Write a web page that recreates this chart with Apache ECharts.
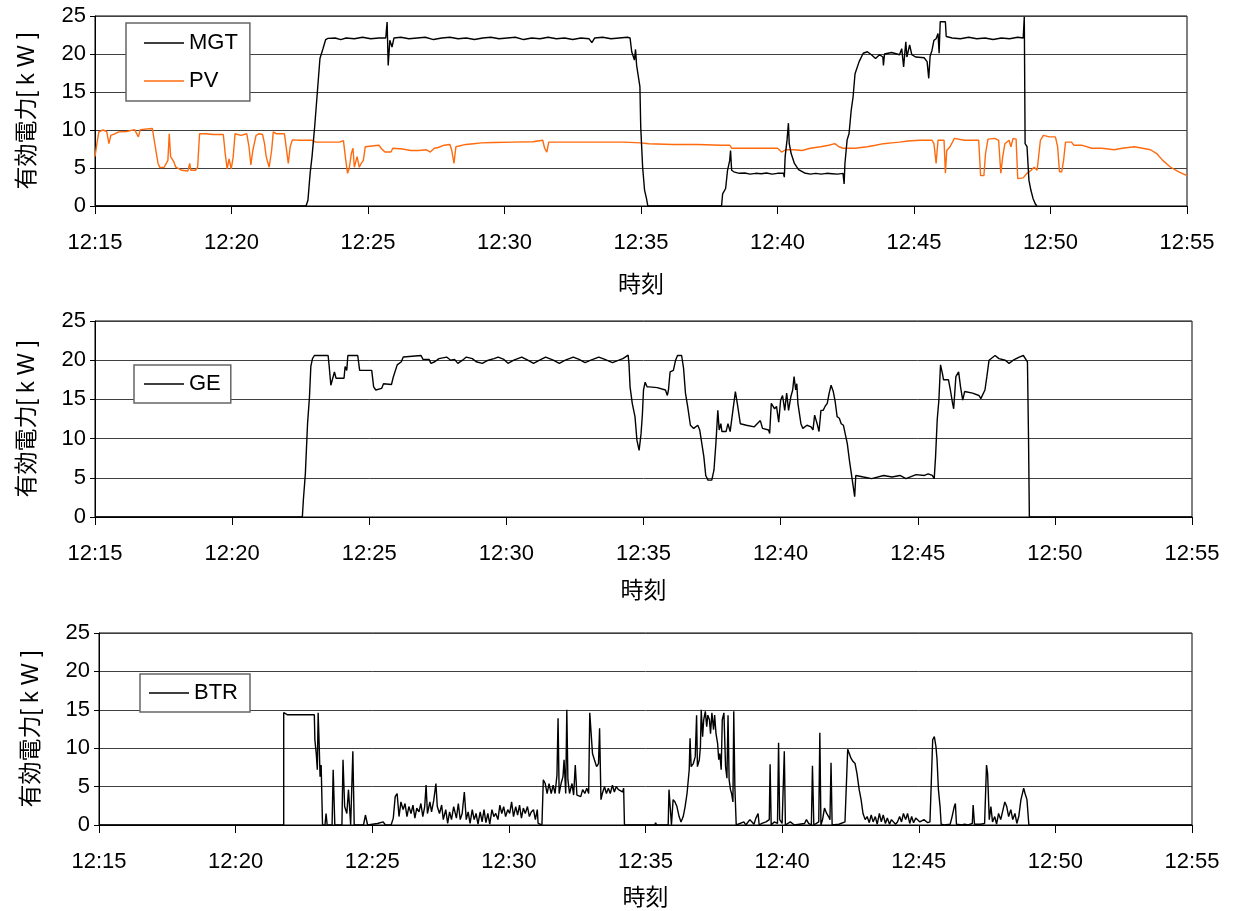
<!DOCTYPE html>
<html><head><meta charset="utf-8">
<script src="https://cdn.jsdelivr.net/npm/echarts@6/dist/echarts.min.js"></script>
<style>html,body{margin:0;padding:0;background:#fff}#c{width:1235px;height:911px}</style>
</head><body><div id="c"></div>
<script>
// x = minutes after 12:15, y = kW
const tickLabels = ['12:15','12:20','12:25','12:30','12:35','12:40','12:45','12:50','12:55'];
const yName = '有効電力[ k W ]';
const xName = '時刻';

const mgt = [[0,0],[7.73,0],[7.8,0.75],[7.88,4.3],[7.95,6.5],[8.05,10.6],[8.16,15.7],[8.24,19.4],[8.35,20.7],[8.45,21.9],[8.53,22.05],
[8.8,22.1],[9.0,21.9],[9.2,22.1],[9.5,22.0],[9.8,22.2],[10.1,22.0],[10.4,22.1],[10.65,22.1],[10.7,24.2],[10.74,18.5],[10.8,21.8],[10.88,20.9],[10.95,22.1],[11.2,22.2],[11.5,22.0],[11.8,22.1],[12.1,22.2],[12.4,21.9],[12.7,22.1],[13.0,22.2],[13.3,22.0],[13.6,22.1],[13.9,21.9],[14.2,22.1],[14.5,22.2],[14.8,22.0],[15.1,22.1],[15.4,22.2],[15.7,21.9],[16.0,22.1],[16.3,22.0],[16.6,22.2],[16.9,22.0],[17.2,22.1],[17.5,21.9],[17.8,22.1],[18.1,22.0],[18.2,21.5],[18.3,22.1],[18.6,22.2],[18.9,22.0],[19.2,22.1],[19.5,22.2],[19.6,22.1],[19.66,20.3],[19.76,19.2],[19.8,20.6],[19.84,18.5],[19.91,18.3],[19.96,15.7],[19.99,10.4],[20.06,5.1],[20.13,2.1],[20.2,1.0],[20.25,0],
[22.95,0],[22.99,1.6],[23.1,2.3],[23.17,4.7],[23.25,6.0],[23.28,7.3],[23.32,4.7],[23.4,4.5],[23.6,4.3],[23.8,4.35],[24.0,4.2],[24.2,4.3],[24.4,4.25],[24.6,4.35],[24.8,4.2],[25.0,4.3],[25.22,4.3],[25.25,3.8],[25.28,6.5],[25.35,8.7],[25.4,10.9],[25.43,8.2],[25.5,6.9],[25.62,5.6],[25.77,4.8],[25.99,4.35],[26.2,4.2],[26.4,4.3],[26.6,4.2],[26.8,4.3],[27.0,4.25],[27.2,4.2],[27.4,4.3],[27.44,2.9],[27.47,5.6],[27.55,8.7],[27.62,9.5],[27.7,12.6],[27.77,14.4],[27.84,17.4],[27.99,19.0],[28.14,20.1],[28.29,20.3],[28.44,19.9],[28.59,19.4],[28.74,19.9],[28.86,19.6],[28.88,18.5],[28.92,20.0],[29.18,20.2],[29.47,19.9],[29.55,20.7],[29.62,18.3],[29.66,20.0],[29.7,21.6],[29.74,19.6],[29.78,19.8],[29.84,21.2],[29.92,19.9],[30.07,19.6],[30.37,19.5],[30.48,19.0],[30.54,16.8],[30.59,19.7],[30.66,20.5],[30.73,21.8],[30.81,22.0],[30.88,22.7],[30.92,20.1],[30.96,24.25],[31.15,24.25],[31.18,22.3],[31.4,22.1],[31.7,22.0],[32.0,22.2],[32.3,22.0],[32.6,22.1],[32.9,21.9],[33.2,22.1],[33.5,22.0],[33.8,22.2],[34.0,22.1],[34.04,24.9],[34.07,8.2],[34.14,7.8],[34.21,3.4],[34.28,2.1],[34.36,1.0],[34.44,0.3],[34.5,0]];

const pv = [[0,6.5],[0.07,8.2],[0.14,9.75],[0.29,10.0],[0.43,9.8],[0.51,8.2],[0.58,9.3],[0.72,9.5],[0.87,9.75],[1.16,9.8],[1.45,10.05],[1.59,9.1],[1.66,10.05],[2.1,10.2],[2.17,8.65],[2.24,7.1],[2.31,5.6],[2.38,5.05],[2.53,5.1],[2.67,6.0],[2.72,9.5],[2.77,6.5],[2.89,5.8],[2.96,5.1],[3.03,4.9],[3.18,4.7],[3.4,4.6],[3.47,5.6],[3.51,4.7],[3.68,4.7],[3.76,5.1],[3.83,9.5],[3.9,9.75],[4.05,9.5],[4.34,9.4],[4.7,9.4],[4.77,6.9],[4.84,4.9],[4.91,6.2],[4.99,4.9],[5.06,6.4],[5.13,9.5],[5.35,9.3],[5.56,9.5],[5.64,7.8],[5.71,5.4],[5.78,7.3],[5.9,9.3],[6.0,9.5],[6.14,9.4],[6.21,8.2],[6.27,6.5],[6.38,5.1],[6.47,7.3],[6.53,9.75],[6.65,9.5],[6.79,9.5],[6.94,9.5],[7.01,9.3],[7.08,5.6],[7.15,7.8],[7.23,8.7],[7.51,8.65],[7.95,8.65],[8.09,8.4],[8.53,8.4],[8.96,8.4],[9.1,8.6],[9.18,6.2],[9.25,4.3],[9.31,4.9],[9.39,6.9],[9.45,7.6],[9.5,5.1],[9.6,6.5],[9.68,5.1],[9.75,5.6],[9.83,6.0],[9.9,7.8],[9.97,8.0],[10.4,8.0],[10.48,7.6],[10.62,7.1],[10.84,7.1],[10.91,7.6],[11.27,7.5],[11.56,7.3],[11.85,7.3],[12.14,7.4],[12.28,7.1],[12.43,7.6],[12.57,7.7],[12.79,8.0],[13.0,8.1],[13.07,7.3],[13.15,5.6],[13.22,7.8],[13.29,8.0],[13.58,8.1],[13.87,8.2],[14.16,8.3],[14.6,8.35],[15.32,8.4],[16.04,8.45],[16.4,8.65],[16.47,7.6],[16.55,7.1],[16.62,8.4],[16.76,8.4],[17.49,8.4],[18.21,8.4],[18.95,8.4],[19.39,8.4],[19.99,8.3],[20.28,8.2],[21.17,8.1],[22.06,8.1],[22.95,8.0],[23.25,8.0],[23.32,7.6],[23.85,7.6],[24.44,7.6],[25.0,7.6],[25.15,7.1],[25.3,7.4],[25.6,7.4],[25.9,7.3],[26.2,7.6],[26.58,7.8],[26.88,8.0],[27.1,8.2],[27.25,7.8],[27.4,7.6],[27.84,7.6],[28.29,7.8],[28.59,8.0],[28.88,8.2],[29.18,8.3],[29.47,8.4],[29.77,8.55],[30.21,8.65],[30.66,8.65],[30.73,8.2],[30.81,5.6],[30.88,8.65],[31.1,8.65],[31.15,4.3],[31.2,7.3],[31.32,7.8],[31.48,8.9],[31.85,8.65],[32.37,8.65],[32.44,4.0],[32.56,4.0],[32.62,6.9],[32.71,8.8],[32.96,8.9],[33.1,8.65],[33.18,4.3],[33.25,6.5],[33.33,8.2],[33.48,8.65],[33.55,7.8],[33.63,8.9],[33.74,8.8],[33.8,3.6],[34.0,3.7],[34.14,4.3],[34.29,4.7],[34.4,5.1],[34.51,4.7],[34.63,8.65],[34.74,9.3],[34.96,9.1],[35.18,9.1],[35.26,7.8],[35.33,4.5],[35.41,4.5],[35.48,6.0],[35.55,8.4],[35.77,8.4],[35.85,8.0],[36.14,8.0],[36.51,7.6],[36.88,7.6],[37.33,7.4],[37.63,7.6],[38.07,7.8],[38.37,7.6],[38.66,7.4],[38.89,6.9],[39.11,6.0],[39.4,5.1],[39.7,4.5],[40.0,4.0]];

const ge = [[0,0],[7.56,0],[7.6,2.3],[7.67,5.5],[7.75,11.9],[7.82,15.3],[7.87,19.2],[7.93,20.2],[8.0,20.6],[8.5,20.6],[8.54,19.2],[8.6,16.8],[8.65,16.6],[8.73,18.5],[8.76,18.7],[8.79,17.7],[8.93,17.7],[9.08,17.7],[9.12,19.2],[9.18,18.7],[9.22,20.6],[9.58,20.6],[9.65,18.7],[10.09,18.7],[10.16,16.6],[10.24,16.2],[10.45,16.4],[10.52,17.0],[10.81,16.9],[10.88,17.9],[10.95,18.1],[11.02,19.4],[11.17,19.8],[11.24,20.4],[11.31,20.6],[11.89,20.6],[11.96,20.1],[12.18,20.1],[12.25,19.6],[12.39,19.8],[12.54,20.2],[12.82,20.4],[12.97,20.0],[13.11,20.1],[13.23,19.6],[13.4,20.0],[13.54,20.4],[13.76,20.2],[13.9,19.8],[14.12,19.6],[14.34,20.0],[14.55,20.2],[14.7,20.4],[14.91,20.1],[15.06,19.6],[15.27,20.0],[15.56,20.4],[15.78,20.0],[15.99,19.6],[16.21,20.0],[16.43,20.4],[16.71,20.0],[16.93,19.6],[17.15,20.0],[17.44,20.4],[17.65,20.1],[17.87,19.7],[18.08,20.0],[18.37,20.4],[18.59,20.1],[18.87,19.7],[19.1,20.0],[19.25,20.2],[19.44,20.65],[19.47,19.6],[19.51,16.6],[19.59,14.5],[19.69,12.8],[19.76,9.8],[19.84,8.5],[19.91,10.6],[19.96,13.1],[20.0,16.2],[20.06,17.2],[20.13,16.6],[20.21,16.6],[20.5,16.5],[20.8,16.2],[20.87,15.5],[20.91,16.2],[20.97,18.5],[21.09,18.7],[21.17,20.0],[21.24,20.6],[21.39,20.6],[21.46,19.0],[21.53,15.8],[21.61,14.1],[21.71,11.7],[21.83,11.3],[21.98,11.7],[22.05,11.1],[22.12,11.1],[22.2,7.7],[22.27,5.3],[22.35,4.7],[22.49,4.7],[22.57,6.0],[22.64,9.4],[22.71,13.6],[22.76,11.1],[22.82,11.9],[22.86,10.9],[23.01,10.9],[23.08,11.9],[23.16,10.9],[23.23,12.8],[23.3,12.8],[23.35,16.0],[23.42,14.5],[23.53,11.9],[23.75,11.7],[24.04,11.5],[24.26,12.3],[24.34,11.3],[24.56,11.1],[24.6,10.65],[24.66,14.5],[24.78,13.8],[24.85,14.1],[24.93,12.1],[25.0,14.9],[25.07,15.5],[25.15,13.6],[25.22,15.8],[25.29,13.6],[25.37,15.3],[25.44,16.2],[25.49,17.9],[25.55,16.2],[25.59,17.0],[25.63,14.5],[25.74,11.9],[25.81,11.3],[25.96,11.7],[26.11,11.5],[26.18,11.1],[26.24,13.0],[26.33,11.9],[26.4,10.9],[26.47,13.6],[26.55,13.6],[26.62,14.1],[26.7,14.5],[26.77,15.8],[26.84,16.8],[26.92,16.0],[26.99,14.7],[27.06,12.8],[27.14,12.6],[27.21,11.9],[27.29,11.7],[27.36,11.5],[27.43,9.4],[27.51,7.2],[27.58,5.5],[27.65,5.3],[27.7,2.6],[27.74,5.3],[28.02,5.1],[28.32,4.9],[28.76,5.3],[29.06,5.1],[29.35,5.3],[29.57,4.9],[29.94,5.4],[30.24,5.3],[30.38,5.5],[30.53,5.3],[30.6,4.9],[30.65,7.7],[30.71,12.4],[30.77,14.9],[30.83,19.4],[30.9,18.3],[30.94,17.5],[31.12,17.5],[31.19,16.2],[31.27,14.5],[31.31,13.8],[31.39,17.9],[31.49,18.5],[31.56,16.6],[31.64,14.9],[31.71,16.0],[31.78,16.0],[32.0,15.8],[32.23,15.5],[32.3,15.1],[32.37,15.3],[32.45,16.2],[32.52,17.9],[32.6,20.0],[32.67,20.2],[32.82,20.6],[32.96,20.2],[33.19,20.0],[33.33,19.6],[33.48,20.0],[33.7,20.4],[33.85,20.6],[33.92,20.4],[34.0,19.8],[34.04,9.8],[34.07,0],[40,0]];

const btr = [[0,0],[6.76,0],[6.76,14.65],[6.9,14.35],[7.88,14.35],[7.9,11.1],[7.95,9.3],[7.99,7.2],[8.02,14.6],[8.06,10.2],[8.09,6.3],[8.13,7.8],[8.16,7.8],[8.18,0],[8.27,0],[8.31,1.5],[8.35,0],[8.53,0],[8.57,7.2],[8.63,0],[8.89,0],[8.93,8.5],[8.99,2.4],[9.07,1.5],[9.13,4.6],[9.21,0],[9.27,0],[9.29,9.6],[9.34,0],[9.68,0],[9.75,1.3],[9.83,0],[10.19,0.2],[10.4,0.4],[10.48,0],[10.69,0],[10.77,0.9],[10.84,3.7],[10.91,4.1],[10.98,1.1],[11.05,3.0],[11.13,2.0],[11.2,2.8],[11.27,1.1],[11.34,2.4],[11.42,1.5],[11.49,2.6],[11.56,0.9],[11.63,2.2],[11.71,1.7],[11.78,2.8],[11.85,1.1],[11.92,2.4],[11.97,5.2],[12.02,1.5],[12.11,3.0],[12.17,1.7],[12.25,3.2],[12.33,5.4],[12.38,2.4],[12.46,1.5],[12.54,2.6],[12.6,0.7],[12.69,2.0],[12.76,0.2],[12.83,1.7],[12.9,0.7],[12.98,2.4],[13.08,0.9],[13.15,2.8],[13.22,0.7],[13.29,1.5],[13.37,4.3],[13.44,0.7],[13.51,1.7],[13.58,0.2],[13.66,2.0],[13.73,0.7],[13.8,1.5],[13.87,0.1],[13.95,1.7],[14.02,0.4],[14.09,2.0],[14.16,0.3],[14.23,1.5],[14.3,0.1],[14.38,2.0],[14.45,1.1],[14.52,1.5],[14.6,0.7],[14.67,2.6],[14.74,1.5],[14.81,2.4],[14.88,1.1],[14.96,2.0],[15.03,1.5],[15.1,3.0],[15.17,1.1],[15.25,2.4],[15.32,1.3],[15.39,2.6],[15.46,0.9],[15.53,2.2],[15.6,1.5],[15.68,2.4],[15.75,1.1],[15.82,1.7],[15.9,2.0],[15.97,0.7],[16.04,2.0],[16.07,0.2],[16.11,0],[16.21,0],[16.26,5.9],[16.33,5.4],[16.4,4.1],[16.47,5.4],[16.55,4.1],[16.62,5.2],[16.69,4.1],[16.76,6.5],[16.8,13.9],[16.84,4.1],[16.91,5.4],[16.98,6.3],[17.02,8.5],[17.08,4.1],[17.12,15.0],[17.16,5.9],[17.22,4.1],[17.31,5.4],[17.37,3.9],[17.43,7.8],[17.49,3.9],[17.56,4.1],[17.63,3.7],[17.7,4.6],[17.78,4.1],[17.85,4.8],[17.92,4.1],[17.96,14.6],[18.0,14.8],[18.06,9.3],[18.13,8.5],[18.21,7.6],[18.28,8.0],[18.32,12.6],[18.37,3.3],[18.42,4.1],[18.5,5.0],[18.57,4.1],[18.64,4.8],[18.71,4.1],[18.79,5.2],[18.86,4.3],[18.93,5.0],[19.01,4.6],[19.08,4.8],[19.16,4.3],[19.2,4.8],[19.23,0],[20.34,0],[20.37,0.3],[20.41,0],[20.83,0],[20.86,4.6],[20.9,4.8],[20.95,0],[21.01,3.3],[21.08,3.0],[21.15,2.4],[21.23,1.1],[21.3,0.4],[21.38,1.1],[21.45,2.4],[21.52,4.1],[21.6,7.2],[21.63,11.3],[21.67,7.6],[21.75,8.0],[21.82,8.9],[21.87,14.3],[21.9,7.6],[21.97,8.5],[22.01,10.2],[22.04,15.0],[22.09,11.5],[22.13,13.7],[22.19,14.8],[22.24,12.8],[22.28,14.3],[22.34,13.7],[22.38,11.9],[22.43,14.6],[22.49,12.4],[22.53,14.3],[22.58,11.9],[22.64,10.6],[22.68,8.5],[22.72,9.3],[22.77,7.2],[22.81,13.7],[22.87,14.6],[22.93,7.6],[22.98,6.1],[23.02,14.3],[23.06,5.9],[23.11,4.6],[23.15,4.1],[23.2,3.0],[23.23,14.8],[23.27,5.0],[23.32,0],[23.6,0.4],[23.67,0],[23.82,0.7],[23.97,0.1],[24.04,0.9],[24.12,1.5],[24.16,0],[24.26,0.2],[24.41,0.4],[24.53,0.7],[24.56,7.9],[24.6,0],[24.71,0.4],[24.83,0.2],[24.87,10.7],[24.91,0.7],[25.0,0.2],[25.08,9.6],[25.12,0],[25.3,0.4],[25.45,0],[25.82,0.2],[25.89,0.7],[25.97,0.2],[26.07,0],[26.11,7.7],[26.16,0],[26.34,0.4],[26.38,12.0],[26.42,0],[26.48,0.7],[26.55,2.2],[26.63,1.5],[26.7,1.1],[26.75,0.7],[26.79,8.1],[26.83,0],[27.08,0.1],[27.3,0.4],[27.4,9.85],[27.45,10.0],[27.52,8.7],[27.59,8.3],[27.67,8.0],[27.74,6.7],[27.82,4.6],[27.89,3.3],[27.96,1.5],[28.04,0.7],[28.11,1.1],[28.19,0.3],[28.26,1.3],[28.33,0.4],[28.41,1.1],[28.48,0.1],[28.56,1.5],[28.63,0.4],[28.7,1.3],[28.78,0.2],[28.85,0.9],[28.93,0.1],[29.0,0.7],[29.15,0.1],[29.22,0.4],[29.3,1.1],[29.37,0.4],[29.44,1.5],[29.52,0.7],[29.59,1.5],[29.67,0.2],[29.74,1.1],[29.81,0.3],[29.89,0.9],[30.04,0.4],[30.19,0.7],[30.33,0.3],[30.41,0.4],[30.45,4.6],[30.51,11.1],[30.57,11.5],[30.63,10.2],[30.67,8.5],[30.72,4.6],[30.78,2.4],[30.82,0.1],[30.93,0],[31.15,0.1],[31.22,1.1],[31.3,2.4],[31.34,2.8],[31.38,0.1],[31.59,0],[31.67,0.1],[31.74,0.3],[31.81,0],[31.96,0.2],[31.99,2.6],[32.04,0.1],[32.26,0.1],[32.41,0.2],[32.48,7.8],[32.52,6.7],[32.58,0.7],[32.64,2.4],[32.7,0.4],[32.78,1.1],[32.85,0.1],[32.92,1.5],[33.0,0.7],[33.07,0.7],[33.15,3.0],[33.22,2.4],[33.29,1.1],[33.37,2.0],[33.44,0.7],[33.52,1.5],[33.59,0.2],[33.66,1.1],[33.74,3.3],[33.78,3.9],[33.84,4.8],[33.89,4.1],[33.96,3.3],[34.03,0],[40,0]];

const FONT = '"Liberation Sans", "Noto Sans CJK JP", sans-serif';
const chart = echarts.init(document.getElementById('c'), null, {renderer: 'canvas'});

const grids = [
  {left: 95, top: 16, width: 1092, height: 190, nameGap: 68},
  {left: 95, top: 321, width: 1097, height: 196, nameGap: 63},
  {left: 99, top: 633, width: 1093, height: 192, nameGap: 62}
];

function xAxis(i, g) {
  return {
    type: 'value', gridIndex: i, min: 0, max: 40, interval: 5,
    name: xName, nameLocation: 'middle', nameGap: g.nameGap,
    nameTextStyle: {fontFamily: FONT, fontSize: 23, color: '#000'},
    axisLine: {show: true, lineStyle: {color: '#000', width: 1}},
    axisTick: {show: true, length: 8, lineStyle: {color: '#000'}},
    axisLabel: {fontFamily: FONT, fontSize: 22, color: '#000', margin: 26,
      formatter: v => tickLabels[Math.round(v / 5)]},
    splitLine: {show: false}
  };
}
function yAxis(i) {
  return {
    type: 'value', gridIndex: i, min: 0, max: 25, interval: 5,
    name: yName, nameLocation: 'middle', nameGap: 56, nameRotate: 90,
    nameTextStyle: {fontFamily: FONT, fontSize: 23, color: '#000'},
    axisLine: {show: true, lineStyle: {color: '#000', width: 1}},
    axisTick: {show: true, length: 5, lineStyle: {color: '#000'}},
    axisLabel: {fontFamily: FONT, fontSize: 22, color: '#000', margin: 9},
    splitLine: {show: true, lineStyle: {color: '#404040', width: 1}}
  };
}
function line(name, data, i, color) {
  return {name, type: 'line', xAxisIndex: i, yAxisIndex: i, data,
    symbol: 'none', showSymbol: false, animation: false,
    lineStyle: {color, width: 1.4}, itemStyle: {color}};
}
const legendCommon = {
  orient: 'vertical', icon: 'path://M0,0 L40,0 L40,1.4 L0,1.4 Z',
  itemWidth: 40, itemHeight: 22, itemGap: 16,
  backgroundColor: '#fff', borderColor: '#666', borderWidth: 1.5,
  textStyle: {fontFamily: FONT, fontSize: 22, color: '#000'}
};

chart.setOption({
  animation: false,
  backgroundColor: '#fff',
  grid: grids.map(g => ({left: g.left, top: g.top, width: g.width, height: g.height,
    show: true, borderColor: '#000', borderWidth: 1, backgroundColor: 'transparent'})),
  xAxis: grids.map((g, i) => xAxis(i, g)),
  yAxis: grids.map((g, i) => yAxis(i)),
  legend: [
    Object.assign({}, legendCommon, {data: ['MGT', 'PV'], left: 126, top: 23, padding: [9, 12, 9, 18]}),
    Object.assign({}, legendCommon, {data: ['GE'], left: 134, top: 365, padding: [8, 10, 8, 10]}),
    Object.assign({}, legendCommon, {data: ['BTR'], left: 140, top: 674, padding: [8, 12, 8, 9]})
  ],
  series: [
    line('PV', pv, 0, '#ff6a0d'),
    line('MGT', mgt, 0, '#000'),
    line('GE', ge, 1, '#000'),
    line('BTR', btr, 2, '#000')
  ]
});
</script></body></html>
